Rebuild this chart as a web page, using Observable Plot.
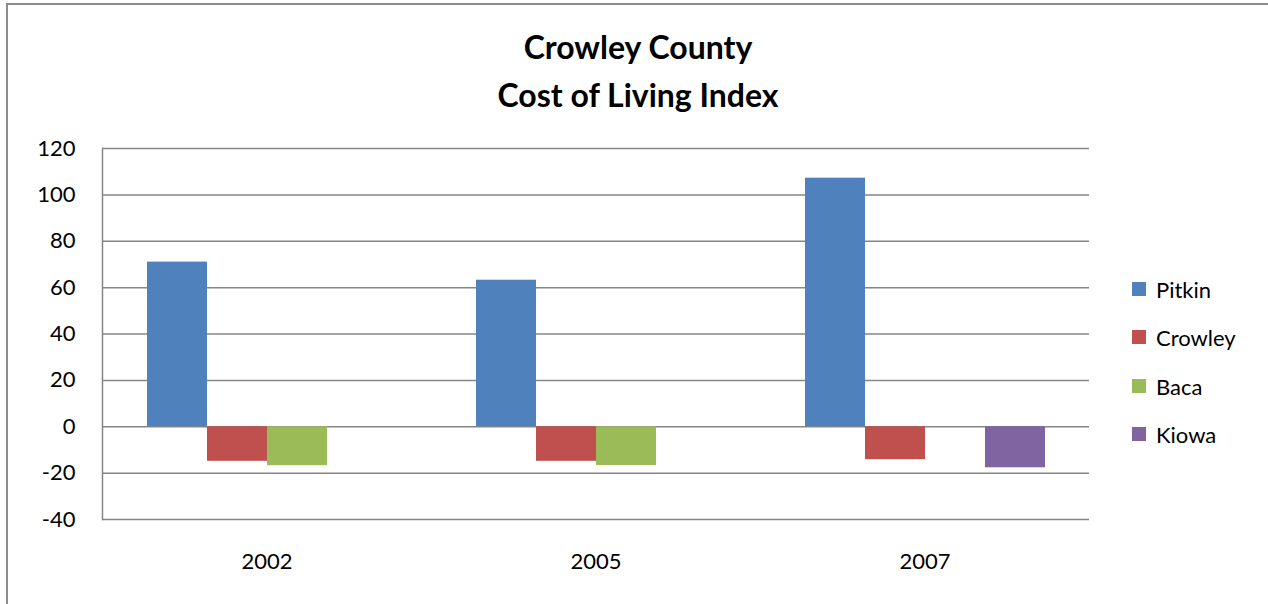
<!DOCTYPE html>
<html>
<head>
<meta charset="utf-8">
<script src="https://cdn.jsdelivr.net/npm/d3@7"></script>
<script src="https://cdn.jsdelivr.net/npm/@observablehq/plot@0.6"></script>
<style>
  html, body { margin: 0; padding: 0; background: #fff; overflow: hidden; }
  #wrap { position: relative; width: 1268px; height: 604px; overflow: hidden; font-family: Lato, "Open Sans", sans-serif; color: #000; }
  #border { position: absolute; left: 6px; top: 3px; width: 1300px; height: 700px; border: 2px solid #8c8c8c; box-sizing: border-box; }
  #title { position: absolute; left: 0; top: 23px; width: 1276px; text-align: center; font-weight: bold; font-size: 32px; line-height: 48px; }
  #chart { position: absolute; left: 0; top: 128px; }
  .leg { position: absolute; left: 1132px; height: 30px; display: flex; align-items: center; font-size: 22px; }
  .leg .sw { width: 14px; height: 14px; margin-right: 10px; }
</style>
</head>
<body>
<div id="wrap">
  <div id="border"></div>
  <div id="title">Crowley County<br>Cost of Living Index</div>
  <div id="chart"></div>
  <div id="legend"></div>
</div>
<script>
const years = ["2002", "2005", "2007"];
const series = ["Pitkin", "Crowley", "Baca", "Kiowa"];
const pitkin = [71.0, 63.2, 107.2];
const crowley = [-14.9, -14.9, -14.2];
const baca = [-16.8, -16.7, null];
const kiowa = [null, null, -17.7];
const colors = ["#4F81BD", "#C0504D", "#9BBB59", "#8064A2"];
const yTicks = [-40, -20, 0, 20, 40, 60, 80, 100, 120];

const valuesBySeries = [pitkin, crowley, baca, kiowa];
const rows = [];
years.forEach((yr, i) => {
  series.forEach((s, j) => {
    const v = valuesBySeries[j][i];
    if (v != null) rows.push({year: yr, series: s, value: v});
  });
});

const chart = Plot.plot({
  width: 1100,
  height: 461,
  marginLeft: 101,
  marginRight: 11,
  marginTop: 20,
  marginBottom: 70,
  style: {fontFamily: "Lato, 'Open Sans', sans-serif", fontSize: "22px", color: "#000", background: "transparent", overflow: "visible"},
  fx: {domain: years, padding: 0, label: null},
  x: {domain: series, paddingInner: 0, paddingOuter: 0.74, axis: null},
  y: {domain: [-40, 120], label: null},
  color: {domain: series, range: colors},
  marks: [
    Plot.ruleY(yTicks, {stroke: "#868686", strokeWidth: 1.5}),
    Plot.frame({anchor: "left", stroke: "#868686", strokeWidth: 1.5, facetAnchor: "left"}),
    Plot.barY(rows, {fx: "year", x: "series", y: "value", fill: "series"}),
    Plot.axisY(yTicks, {tickSize: 0, tickPadding: 27, label: null, fill: "#000", tickFormat: d => String(d)}),
    Plot.axisFx({anchor: "bottom", tickSize: 0, tickPadding: 34, label: null, fill: "#000"})
  ]
});
document.getElementById("chart").appendChild(chart);

const legendTops = [274, 322, 371, 419];
const legend = document.getElementById("legend");
series.forEach((s, i) => {
  const row = document.createElement("div");
  row.className = "leg";
  row.style.top = legendTops[i] + "px";
  const sw = document.createElement("div");
  sw.className = "sw";
  sw.style.background = colors[i];
  const t = document.createElement("span");
  t.textContent = s;
  row.appendChild(sw);
  row.appendChild(t);
  legend.appendChild(row);
});
</script>
</body>
</html>
